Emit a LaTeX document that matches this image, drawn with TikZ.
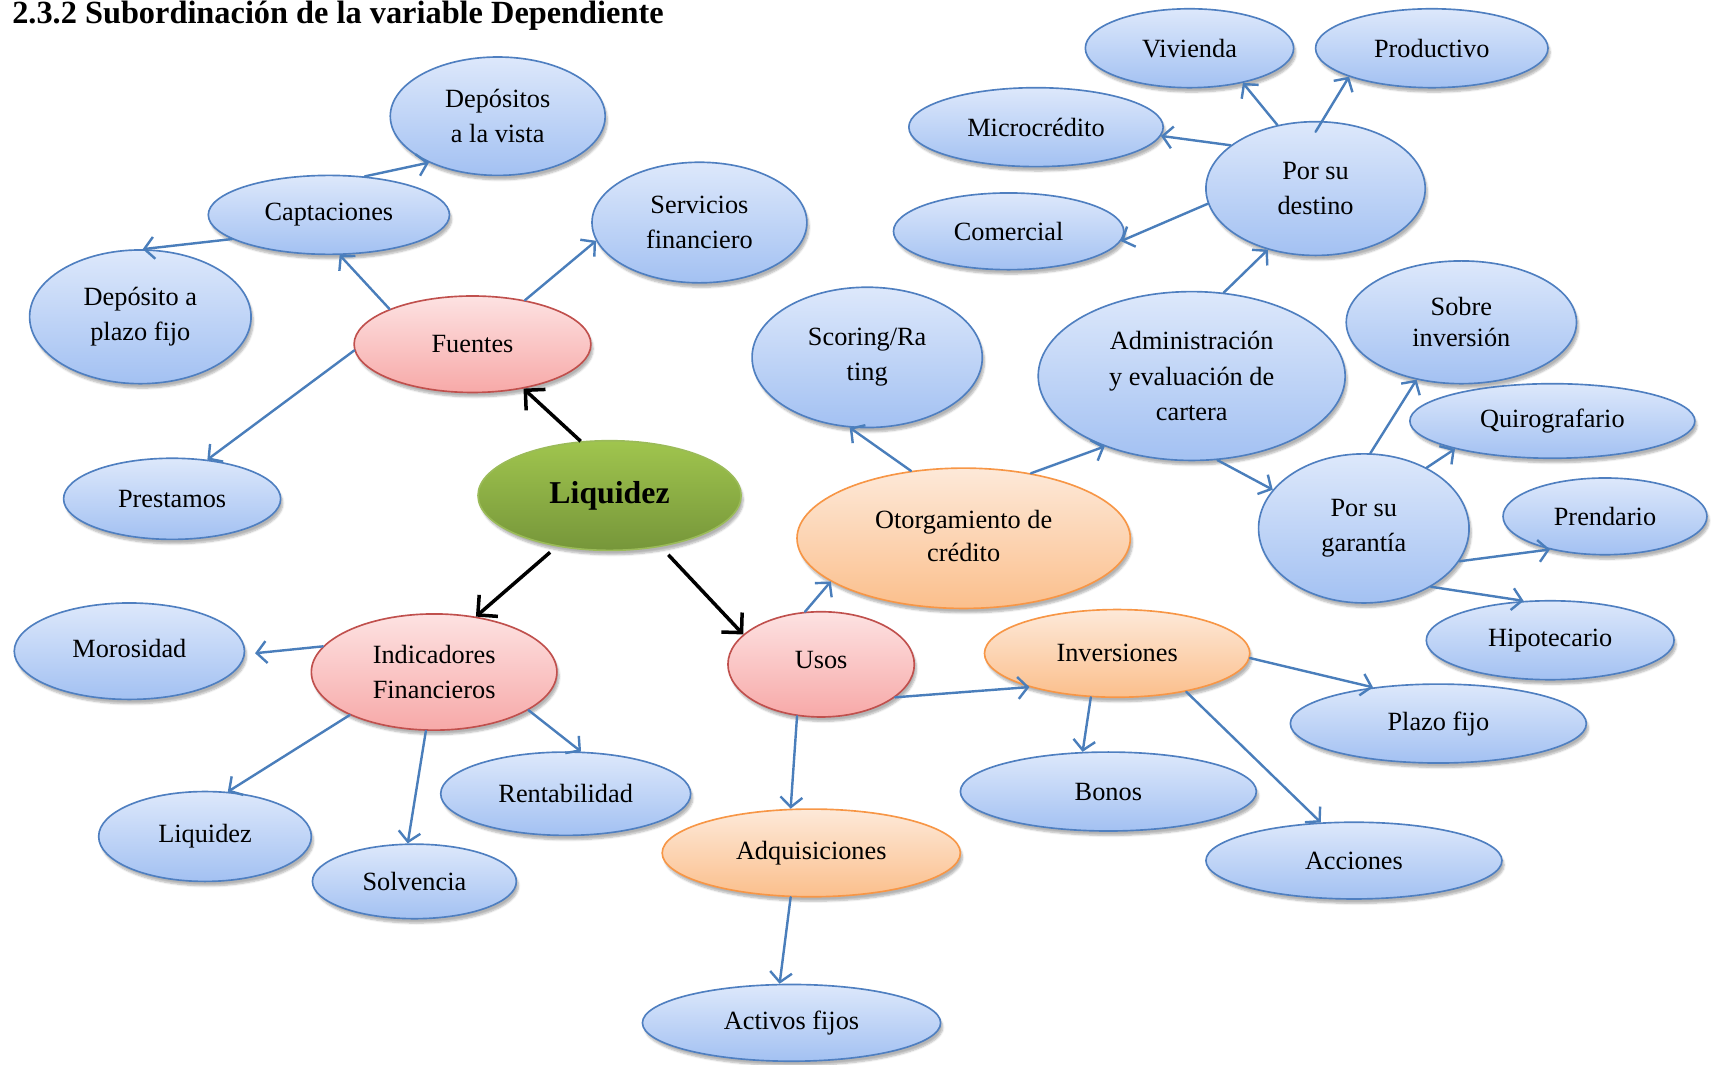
\documentclass[tikz,border=0pt]{standalone}
\usepackage{fontspec}
\setmainfont{Liberation Serif}
\usetikzlibrary{shapes.geometric,arrows.meta,shadows.blur}

\definecolor{bluetop}{HTML}{DDE8FB}
\definecolor{bluebot}{HTML}{A3C1F2}
\definecolor{blueline}{HTML}{4F7FC0}
\definecolor{redtop}{HTML}{FDE2E2}
\definecolor{redbot}{HTML}{F7A9A8}
\definecolor{redline}{HTML}{C0504D}
\definecolor{orgtop}{HTML}{FDE9D9}
\definecolor{orgbot}{HTML}{FBBF8C}
\definecolor{orgline}{HTML}{F79646}
\definecolor{grntop}{HTML}{A0C54E}
\definecolor{grnbot}{HTML}{76963A}
\definecolor{grnline}{HTML}{9BBB59}
\definecolor{arrowblue}{HTML}{4A7EBB}

\tikzset{
  bubble/.style={ellipse, inner sep=0pt, align=center, line width=1.5pt,
    font=\fontsize{24}{32}\selectfont,
    blur shadow={shadow xshift=2pt, shadow yshift=-4pt, shadow blur steps=6, shadow opacity=30}},
  bluebub/.style={bubble, draw=blueline, top color=bluetop, bottom color=bluebot},
  redbub/.style={bubble, draw=redline, top color=redtop, bottom color=redbot},
  orgbub/.style={bubble, draw=orgline, top color=orgtop, bottom color=orgbot},
  grnbub/.style={bubble, draw=grnline, top color=grntop, bottom color=grnbot,
    font=\fontsize{29}{34}\selectfont\bfseries},
  link/.style={draw=arrowblue, line width=2.2pt, line cap=round,
    -{Straight Barb[length=9pt,width=20pt]}},
  mainlink/.style={draw=black, line width=3.2pt,
    -{Straight Barb[length=13pt,width=26pt]}},
}

\begin{document}
\begin{tikzpicture}[x=1pt,y=-1pt]
\useasboundingbox (0,0) rectangle (1568,971);

% heading
\node[anchor=base west, inner sep=0pt, font=\fontsize{29.5}{33}\selectfont\bfseries]
  (title) at (11,21) {2.3.2 Subordinación de la variable Dependiente};

% centre
\node[grnbub, minimum width=240pt, minimum height=100pt] (liq) at (556,452) {Liquidez};

% Fuentes branch
\node[redbub, minimum width=216pt, minimum height=88pt] (fue) at (431,314) {Fuentes};
\node[bluebub, minimum width=220pt, minimum height=72pt] (cap) at (300,196) {Captaciones};
\node[bluebub, minimum width=196pt, minimum height=108pt] (dvis) at (454,106) {Depósitos\\a la vista};
\node[bluebub, minimum width=202pt, minimum height=122pt] (dpla) at (128,289) {Depósito a\\plazo fijo};
\node[bluebub, minimum width=196pt, minimum height=110pt] (serv) at (638,203) {Servicios\\financiero};
\node[bluebub, minimum width=198pt, minimum height=74pt] (pres) at (157,455) {Prestamos};

% Indicadores branch
\node[redbub, minimum width=224pt, minimum height=106pt] (ind) at (396,613) {Indicadores\\Financieros};
\node[bluebub, minimum width=210pt, minimum height=88pt] (mor) at (118,594) {\raisebox{6pt}{Morosidad}};
\node[bluebub, minimum width=194pt, minimum height=82pt] (liq2) at (187,763) {Liquidez};
\node[bluebub, minimum width=186pt, minimum height=68pt] (sol) at (378,804) {Solvencia};
\node[bluebub, minimum width=228pt, minimum height=76pt] (ren) at (516,724) {Rentabilidad};

% Usos branch
\node[redbub, minimum width=170pt, minimum height=96pt] (uso) at (749,606) {\raisebox{8pt}{Usos}};
\node[orgbub, minimum width=272pt, minimum height=80pt] (adq) at (740,778) {Adquisiciones};
\node[bluebub, minimum width=272pt, minimum height=70pt] (act) at (722,933) {Activos fijos};
\node[orgbub, minimum width=304pt, minimum height=128pt] (oto) at (879,491) {\raisebox{5pt}{\shortstack{Otorgamiento de\\[5pt]crédito}}};
\node[bluebub, minimum width=210pt, minimum height=128pt] (sco) at (791,326) {Scoring/Ra\\ting};
\node[bluebub, minimum width=280pt, minimum height=154pt] (adm) at (1087,343) {Administración\\y evaluación de\\cartera};

% Por su destino
\node[bluebub, minimum width=200pt, minimum height=122pt] (des) at (1200,172) {Por su\\destino};
\node[bluebub, minimum width=210pt, minimum height=70pt] (com) at (920,211) {Comercial};
\node[bluebub, minimum width=232pt, minimum height=72pt] (mic) at (945,116) {Microcrédito};
\node[bluebub, minimum width=190pt, minimum height=72pt] (viv) at (1085,44) {Vivienda};
\node[bluebub, minimum width=212pt, minimum height=72pt] (pro) at (1306,44) {Productivo};

% Por su garantía
\node[bluebub, minimum width=192pt, minimum height=136pt] (gar) at (1244,482) {Por su\\garantía};
\node[bluebub, minimum width=210pt, minimum height=112pt, font=\fontsize{24}{28}\selectfont] (sob) at (1333,294) {Sobre\\inversión};
\node[bluebub, minimum width=260pt, minimum height=68pt] (qui) at (1416,384) {Quirografario};
\node[bluebub, minimum width=186pt, minimum height=70pt] (pre) at (1464,471) {Prendario};
\node[bluebub, minimum width=226pt, minimum height=72pt] (hip) at (1414,584) {Hipotecario};

% Inversiones
\node[orgbub, minimum width=242pt, minimum height=80pt] (inv) at (1019,596) {Inversiones};
\node[bluebub, minimum width=270pt, minimum height=72pt] (plf) at (1312,660) {Plazo fijo};
\node[bluebub, minimum width=270pt, minimum height=72pt] (bon) at (1011,722) {Bonos};
\node[bluebub, minimum width=270pt, minimum height=70pt] (acc) at (1235,785) {Acciones};

% main connectors
\draw[mainlink] (liq.118) -- (fue.319);
\draw[mainlink, shorten <=8pt] (liq.224) -- (ind.53);
\draw[mainlink, shorten <=10pt] (liq.315) -- (uso.159);

% Fuentes
\draw[link] (cap.47) -- (dvis.214);
\draw[link] (cap.194) -- (dpla.88);
\draw[link] (fue.157) -- (cap.285);
\draw[link] (fue.40) -- (serv.190);
\draw[link] (fue.183) -- (pres.48);

% Indicadores
\draw[link] (ind.167) -- ([xshift=9pt]mor.359);
\draw[link] (ind.207) -- (liq2.63);
\draw[link] (ind.262) -- (sol.100);
\draw[link] (ind.338) -- (ren.70);

% Usos
\draw[link] (uso.107) -- (oto.198);
\draw[link] (uso.245) -- (adq.115);
\draw[link] (uso.336) -- (inv.201);
\draw[link] (adq.245) -- (act.107);

% Otorgamiento
\draw[link] (oto.128) -- (sco.256);
\draw[link] (oto.44) -- (adm.219);
\draw[link] (adm.69) -- (des.232);
\draw[link] (adm.287) -- (gar.157);

% Por su destino
\draw[link] (des.188) -- (com.355);
\draw[link] (des.153) -- (mic.356);
\draw[link] (des.121) -- (viv.327);
\draw[link] ([yshift=-10pt]des.90) -- (pro.199);

% Por su garantía
\draw[link] (gar.85) -- (sob.232);
\draw[link] (gar.44) -- (qui.196);
\draw[link] (gar.341) -- (pre.211);
\draw[link] (gar.319) -- (hip.124);

% Inversiones
\draw[link] (inv.358) -- (plf.151);
\draw[link] (inv.239) -- (bon.123);
\draw[link] (inv.331) -- (acc.131);
\end{tikzpicture}
\end{document}
